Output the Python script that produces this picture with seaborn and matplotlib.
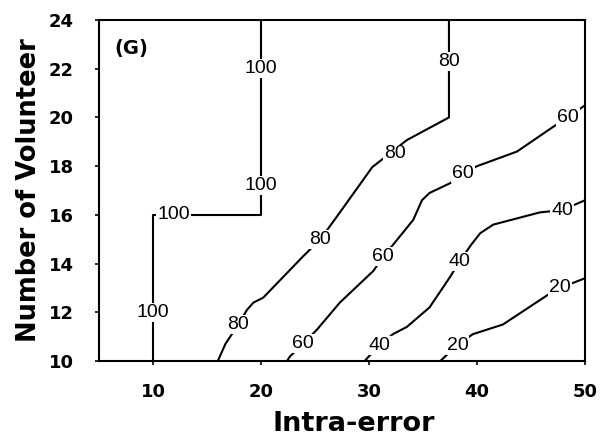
import matplotlib
matplotlib.use("Agg")
import matplotlib.pyplot as plt
import seaborn as sns
import pandas as pd

# Contour lines (Intra-error, Number of Volunteer) per accuracy level
levels = [100, 80, 60, 40, 20]
c100_x = [10, 10, 20, 20]
c100_y = [10, 16, 16, 24]
c80_x = [16.0, 16.7, 17.9, 18.7, 19.3, 20.2, 23.9, 25.5, 27.3, 30.3, 33.5, 37.4, 37.4]
c80_y = [10.0, 10.7, 11.5, 12.1, 12.4, 12.6, 14.3, 15.0, 16.1, 17.96, 19.07, 20.0, 24.0]
c60_x = [22.4, 22.7, 23.9, 25.2, 27.3, 30.4, 31.3, 33.1, 34.1, 34.9, 35.6, 37.5, 38.7, 40.0, 43.7, 47.0, 48.4, 50.0]
c60_y = [10.0, 10.2, 10.7, 11.3, 12.4, 13.7, 14.27, 15.25, 15.8, 16.6, 16.9, 17.3, 17.7, 18.0, 18.6, 19.6, 20.0, 20.5]
c40_x = [29.6, 29.9, 31.0, 32.2, 33.5, 35.6, 37.5, 38.4, 39.5, 40.3, 41.5, 45.8, 47.9, 50.0]
c40_y = [10.0, 10.15, 10.65, 11.1, 11.4, 12.2, 13.45, 14.1, 14.8, 15.25, 15.6, 16.1, 16.2, 16.6]
c20_x = [36.6, 37.2, 38.2, 39.6, 42.4, 46.5, 47.7, 50.0]
c20_y = [10.0, 10.25, 10.65, 11.1, 11.5, 12.7, 13.0, 13.4]

label_level = [100, 100, 100, 100, 80, 80, 80, 80, 60, 60, 60, 60, 40, 40, 40, 20, 20]
label_x = [20.0, 20.0, 11.9, 10.0, 37.4, 32.4, 25.5, 17.9, 48.4, 38.7, 31.3, 23.9, 47.9, 38.4, 31.0, 47.7, 38.2]
label_y = [22.0, 17.2, 16.0, 12.0, 22.3, 18.5, 15.0, 11.5, 20.0, 17.7, 14.3, 10.7, 16.2, 14.1, 10.65, 13.0, 10.65]

x_ticks = [10, 20, 30, 40, 50]
y_ticks = [10, 12, 14, 16, 18, 20, 22, 24]

sns.set_theme(style="ticks")
plt.rcParams['font.family'] = ['DejaVu Sans']
plt.rcParams['text.color'] = 'black'
plt.rcParams['axes.labelcolor'] = 'black'

fig = plt.figure(figsize=(6.06, 4.40), dpi=100)
ax = fig.add_axes([0.1634, 0.1795, 0.802, 0.775])

frames = []
for lev, xs, ys in zip(levels, [c100_x, c80_x, c60_x, c40_x, c20_x], [c100_y, c80_y, c60_y, c40_y, c20_y]):
    frames.append(pd.DataFrame({"x": xs, "y": ys, "level": lev}))
df = pd.concat(frames, ignore_index=True)

sns.lineplot(data=df, x="x", y="y", units="level", estimator=None, sort=False,
             color="black", linewidth=1.5, ax=ax, legend=False)

for lev, lx, ly in zip(label_level, label_x, label_y):
    ax.text(lx, ly, str(lev), ha="center", va="center", fontsize=14, color="black",
            family=["Liberation Sans", "DejaVu Sans"],
            bbox=dict(boxstyle="square,pad=0.05", fc="white", ec="none"), zorder=5)

ax.text(8.0, 22.85, "(G)", ha="center", va="center", fontsize=14, fontweight="bold", color="black")

ax.set_xlim(5, 50)
ax.set_ylim(10, 24)
ax.set_xticks(x_ticks)
ax.set_yticks(y_ticks)
for lab in ax.get_xticklabels() + ax.get_yticklabels():
    lab.set_fontweight("bold")
ax.tick_params(axis="both", labelsize=13, direction="out", length=3, width=1.2,
               colors="black")
ax.tick_params(axis="x", pad=13)
ax.tick_params(axis="y", pad=15)
for sp in ax.spines.values():
    sp.set_visible(True)
    sp.set_linewidth(1.5)
    sp.set_color("black")
ax.set_xlabel("Intra-error", fontsize=19.5, fontweight="bold", labelpad=7, x=0.525)
ax.set_ylabel("Number of Volunteer", fontsize=18.5, fontweight="bold", labelpad=5)

fig.savefig("out.png", dpi=100)
